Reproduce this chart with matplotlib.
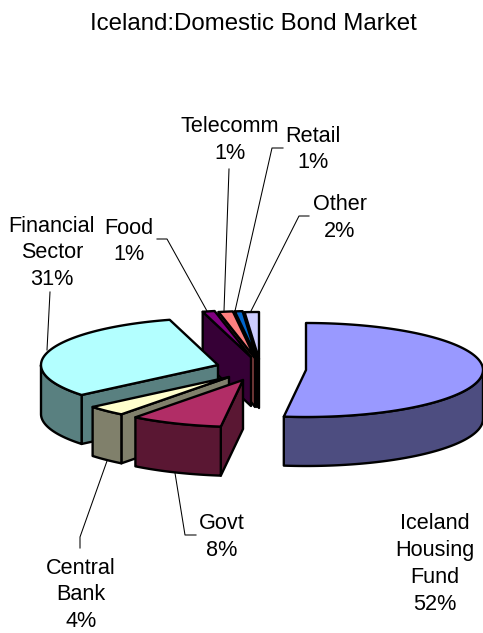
import numpy as np
import matplotlib
matplotlib.use("Agg")
import matplotlib.pyplot as plt
from matplotlib.patches import Polygon

# ---- data -----------------------------------------------------------
TITLE = "Iceland:Domestic Bond Market"
categories = ["Iceland Housing Fund", "Govt", "Central Bank", "Financial Sector",
              "Food", "Telecomm", "Retail", "Other"]
values = [52.0, 8.4, 3.6, 31.6, 1.1, 1.3, 0.7, 1.3]
pct_labels = ["52%", "8%", "4%", "31%", "1%", "1%", "1%", "2%"]
label_text = ["Iceland\nHousing\nFund", "Govt", "Central\nBank", "Financial\nSector",
              "Food", "Telecomm", "Retail", "Other"]

# ---- style / layout --------------------------------------------------
top_colors = ["#9999FF", "#B12D66", "#FFFFCC", "#B3FFFF", "#800080", "#FF8080", "#0066CC", "#CCCCFF"]
side_colors = ["#4D4D80", "#5A1733", "#80806B", "#598080", "#360036", "#804040", "#003366", "#666680"]
apex_px = [(306, 370), (243, 380), (229, 377), (218, 365), (251, 357), (255, 358), (257, 358), (259, 359)]
label_px = [(435, 564), (222, 537), (81, 595), (52, 253), (129, 241.5), (230, 140), (313, 149.5), (340, 218)]
leader_px = [None,
             [(196, 535), (185, 535), (175, 473)],
             [(80, 548), (80, 537), (107, 461)],
             [(50, 292), (47, 350)],
             [(157, 239), (167, 239), (207, 311)],
             [(229, 169), (224, 311)],
             [(283, 148), (272, 148), (235, 311)],
             [(309, 216), (299, 216), (251, 311)]]
draw_order = [7, 6, 5, 4, 0, 3, 2, 1]
RX, RY, DEPTH = 177, 47, 49
LW = 1.7
FONT = ["Liberation Sans", "DejaVu Sans"]

fig = plt.figure(figsize=(4.83, 6.33), dpi=100, facecolor="white")
ax = fig.add_axes([0, 0, 1, 1])
ax.set_xlim(0, 483)
ax.set_ylim(633, 0)
ax.axis("off")


def rim(center, deg):
    t = np.radians(deg)
    return np.column_stack([center[0] + RX * np.sin(t), center[1] - RY * np.cos(t)])


def add_poly(pts, color, z):
    ax.add_patch(Polygon(pts, closed=True, facecolor=color, edgecolor="black",
                         linewidth=LW, joinstyle="round", zorder=z))


def face(center, deg, color, z):
    p = rim(center, np.array([deg]))[0]
    c = np.array(center, float)
    d = np.array([0, DEPTH])
    add_poly([c, p, p + d, c + d], color, z)


edges = np.concatenate([[0], np.cumsum(values)]) / np.sum(values) * 360
for rank, i in enumerate(draw_order):
    a0, a1 = edges[i], edges[i + 1]
    c = apex_px[i]
    z = 2 + rank
    if 180 < a0 < 360:
        face(c, a0, side_colors[i], z)
    if 0 < a1 < 180:
        face(c, a1, side_colors[i], z)
    w0, w1 = max(a0, 90), min(a1, 270)
    if w1 > w0:
        arc = rim(c, np.linspace(w0, w1, 80))
        add_poly(np.vstack([arc, arc[::-1] + [0, DEPTH]]), side_colors[i], z)
    arc = rim(c, np.linspace(a0, a1, 120))
    add_poly(np.vstack([[c], arc]), top_colors[i], z)

for i, seg in enumerate(leader_px):
    if seg:
        xs, ys = zip(*seg)
        ax.plot(xs, ys, color="black", lw=0.75, zorder=1)

for i, (x, y) in enumerate(label_px):
    ax.text(x, y, f"{label_text[i]}\n{pct_labels[i]}", ha="center", va="center",
            family=FONT, fontsize=15.6, linespacing=1.36, color="black", zorder=20)

ax.text(253, 23.5, TITLE, ha="center", va="center", family=FONT, fontsize=17.3, color="black")
fig.savefig("out.png", dpi=100)
